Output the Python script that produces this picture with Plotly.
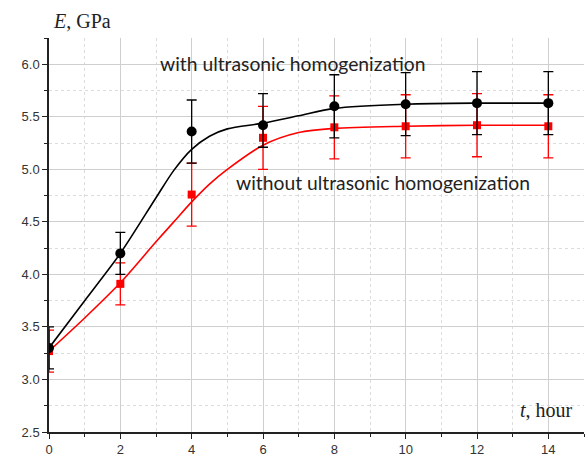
import plotly.graph_objects as go

# measured data
t = [0, 2, 4, 6, 8, 10, 12, 14]
E_with = [3.30, 4.20, 5.36, 5.42, 5.60, 5.62, 5.63, 5.63]
E_with_err_plus = [0.20, 0.20, 0.30, 0.30, 0.30, 0.30, 0.30, 0.30]
E_with_err_minus = [0.20, 0.20, 0.30, 0.21, 0.30, 0.30, 0.30, 0.30]
E_without = [3.27, 3.91, 4.76, 5.30, 5.40, 5.41, 5.42, 5.41]
E_without_err = [0.20, 0.20, 0.30, 0.30, 0.30, 0.30, 0.30, 0.30]

# fitted curves
t_fit = [0, 1, 2, 3, 3.5, 4, 4.5, 5, 6, 7, 8, 10, 12, 14]
fit_with = [3.30, 3.75, 4.20, 4.73, 4.99, 5.19, 5.315, 5.385, 5.44, 5.51, 5.58, 5.62, 5.63, 5.63]
fit_without = [3.27, 3.585, 3.92, 4.31, 4.50, 4.69, 4.86, 5.00, 5.23, 5.35, 5.39, 5.41, 5.42, 5.42]

x_ticks = [0, 2, 4, 6, 8, 10, 12, 14]
y_ticks = [2.5, 3.0, 3.5, 4.0, 4.5, 5.0, 5.5, 6.0]

fig = go.Figure()
fig.add_trace(go.Scatter(x=t_fit, y=fit_without, mode="lines",
                         line=dict(color="#ff0000", width=1.6, shape="spline", smoothing=0.8),
                         showlegend=False, hoverinfo="skip"))
fig.add_trace(go.Scatter(x=t_fit, y=fit_with, mode="lines",
                         line=dict(color="#000000", width=1.6, shape="spline", smoothing=0.8),
                         showlegend=False, hoverinfo="skip"))
fig.add_trace(go.Scatter(x=t, y=E_without, mode="markers",
                         marker=dict(symbol="square", size=8, color="#ff0000"),
                         error_y=dict(type="data", array=E_without_err, color="#ff0000",
                                      thickness=1.3, width=5),
                         showlegend=False))
fig.add_trace(go.Scatter(x=t, y=E_with, mode="markers",
                         marker=dict(symbol="circle", size=10, color="#000000"),
                         error_y=dict(type="data", array=E_with_err_plus,
                                      arrayminus=E_with_err_minus, color="#000000",
                                      thickness=1.3, width=5),
                         showlegend=False))

fig.update_layout(
    width=585, height=459,
    margin=dict(l=49, r=1, t=38, b=27),
    paper_bgcolor="white", plot_bgcolor="white",
    font=dict(family="Arial, Liberation Sans, sans-serif", size=13, color="#333333"),
    xaxis=dict(range=[0, 15], tickvals=x_ticks, showline=True, linecolor="#222222", linewidth=1.5,
               ticks="outside", ticklen=5, tickcolor="#222222", tickwidth=1.2,
               showgrid=True, gridcolor="#cfcfcf", gridwidth=1, zeroline=False,
               minor=dict(dtick=1, ticks="outside", ticklen=3, tickcolor="#222222",
                          showgrid=True, gridcolor="#dcdcdc", griddash="dot")),
    yaxis=dict(range=[2.5, 6.25], tickvals=y_ticks, tickformat=".1f",
               showline=True, linecolor="#222222", linewidth=1.5,
               ticks="outside", ticklen=5, tickcolor="#222222", tickwidth=1.2,
               showgrid=True, gridcolor="#cfcfcf", gridwidth=1, zeroline=False,
               minor=dict(dtick=0.25, ticks="outside", ticklen=3, tickcolor="#222222",
                          showgrid=True, gridcolor="#dcdcdc", griddash="dot")),
)

fig.add_annotation(x=0, y=1, xref="paper", yref="paper", xanchor="left", yanchor="bottom",
                   xshift=2, yshift=4, showarrow=False,
                   text="<i>E</i>, GPa",
                   font=dict(family="Liberation Serif, serif", size=20, color="#222222"))
fig.add_annotation(x=1, y=0, xref="paper", yref="paper", xanchor="right", yanchor="bottom",
                   xshift=-9, yshift=9, showarrow=False,
                   text="<i>t</i>, hour",
                   font=dict(family="Liberation Serif, serif", size=20, color="#222222"))
fig.add_annotation(x=6.83, y=6.01, xref="x", yref="y", showarrow=False,
                   text="with ultrasonic homogenization",
                   font=dict(family="Lato, Noto Sans, sans-serif", size=19.3, color="#222222"))
fig.add_annotation(x=9.36, y=4.87, xref="x", yref="y", showarrow=False,
                   text="without ultrasonic homogenization",
                   font=dict(family="Lato, Noto Sans, sans-serif", size=19.3, color="#222222"))

fig.write_html("out.html", config={"displayModeBar": False},
               post_script="document.body.style.margin='0';document.body.style.overflow='hidden';")
